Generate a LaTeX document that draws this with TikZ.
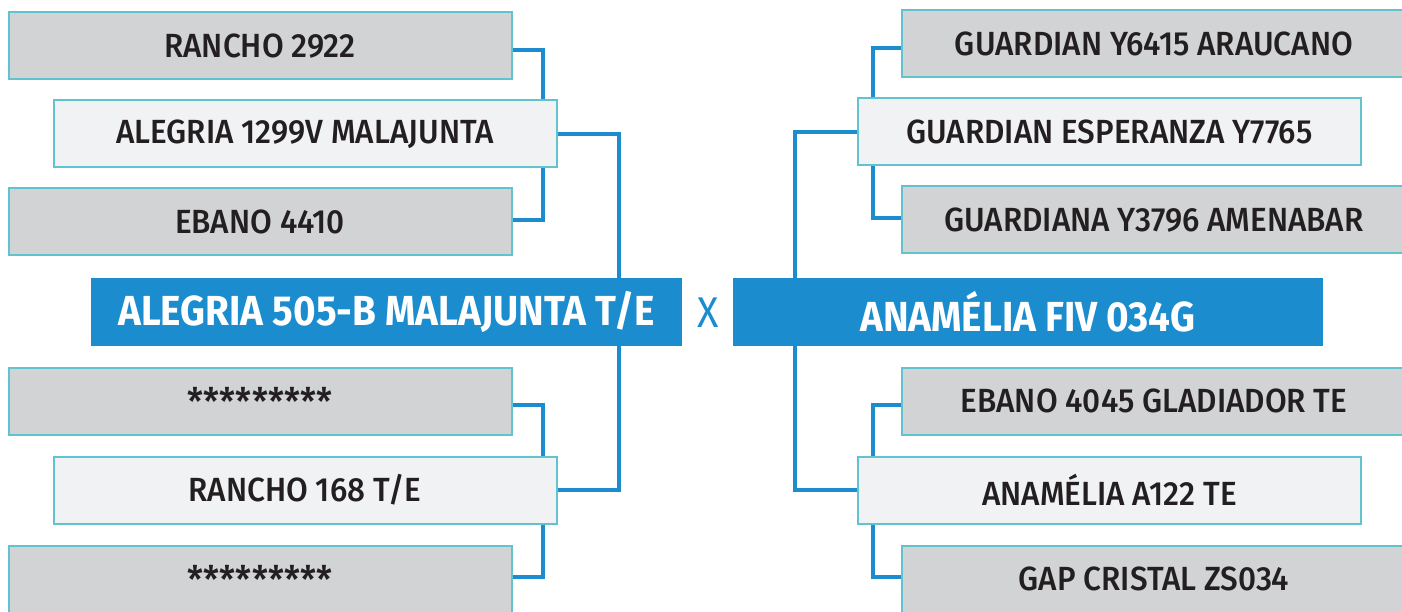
\documentclass[tikz,border=0pt]{standalone}
\usepackage{fontspec}
\setmainfont{Fira Sans}
\newfontfamily\boxfont{Fira Sans Medium}[FakeStretch=0.94]
\newfontfamily\mainfont{Fira Sans}[FakeStretch=0.92]
\usetikzlibrary{backgrounds}
\definecolor{cblue}{HTML}{1B8DCE}
\definecolor{cedge}{HTML}{62C3D0}
\definecolor{cgray}{HTML}{D1D3D4}
\definecolor{clight}{HTML}{F1F2F4}
\definecolor{ctext}{HTML}{231F20}
\tikzset{
  base/.style={draw=cedge, line width=2pt, inner sep=0pt, minimum height=67pt,
    text=ctext, font=\boxfont\fontsize{33.5}{33.5}\selectfont},
  graybox/.style={base, fill=cgray, minimum width=503pt},
  lightbox/.style={base, fill=clight, minimum width=503pt},
  stars/.style={font=\boxfont\fontsize{38}{38}\selectfont},
  mainbox/.style={fill=cblue, inner sep=0pt, minimum height=68pt, minimum width=591pt,
    text=white, font=\mainfont\bfseries\fontsize{42}{42}\selectfont},
  conn/.style={draw=cblue, line width=4pt}
}
\begin{document}
\begin{tikzpicture}[x=1pt,y=-1pt]
\useasboundingbox (0,0) rectangle (1402,612);
% left side
\node[graybox]  (l1) at (260,46)  {RANCHO 2922};
\node[lightbox] (l2) at (305,134) {ALEGRIA 1299V MALAJUNTA};
\node[graybox]  (l3) at (260,222) {EBANO 4410};
\node[graybox, stars]  (l4) at (260,401) {*********};
\node[lightbox] (l5) at (305,490) {RANCHO 168 T/E};
\node[graybox, stars]  (l6) at (260,579) {*********};
\node[mainbox]  (ml) at (386.5,312) {ALEGRIA 505-B MALAJUNTA T/E};
\node[text=cblue, font=\mainfont\fontsize{43}{43}\selectfont] (x) at (708,313) {X};
\node[mainbox, minimum width=590pt] (mr) at (1028,312) {ANAMÉLIA FIV 034G};
% right side
\node[graybox, minimum width=504pt]  (r1) at (1154,44)  {GUARDIAN Y6415 ARAUCANO};
\node[lightbox] (r2) at (1109.5,132) {GUARDIAN ESPERANZA Y7765};
\node[graybox, minimum width=504pt]  (r3) at (1154,220) {GUARDIANA Y3796 AMENABAR};
\node[graybox, minimum width=504pt]  (r4) at (1154,401) {EBANO 4045 GLADIADOR TE};
\node[lightbox] (r5) at (1109.5,490) {ANAMÉLIA A122 TE};
\node[graybox, minimum width=504pt]  (r6) at (1154,579) {GAP CRISTAL ZS034};
% junction columns
\coordinate (ja) at (543,0);
\coordinate (jb) at (619,0);
\coordinate (jc) at (873,0);
\coordinate (jd) at (795,0);
\begin{scope}[on background layer]
\draw[conn] ([yshift=-4pt]l1.east) -| (ja |- l2.north);
\draw[conn] ([yshift=2pt]l3.east) -| (ja |- l2.south);
\draw[conn] (l2.east) -| (jb |- ml.north);
\draw[conn] ([yshift=-4pt]l4.east) -| (ja |- l5.north);
\draw[conn] ([yshift=2pt]l6.east) -| (ja |- l5.south);
\draw[conn] (l5.east) -| (jb |- ml.south);
\draw[conn] ([yshift=-4pt]r1.west) -| (jc |- r2.north);
\draw[conn] ([yshift=2pt]r3.west) -| (jc |- r2.south);
\draw[conn] (r2.west) -| (jd |- mr.north);
\draw[conn] ([yshift=-4pt]r4.west) -| (jc |- r5.north);
\draw[conn] ([yshift=2pt]r6.west) -| (jc |- r5.south);
\draw[conn] (r5.west) -| (jd |- mr.south);
\end{scope}
\end{tikzpicture}
\end{document}
